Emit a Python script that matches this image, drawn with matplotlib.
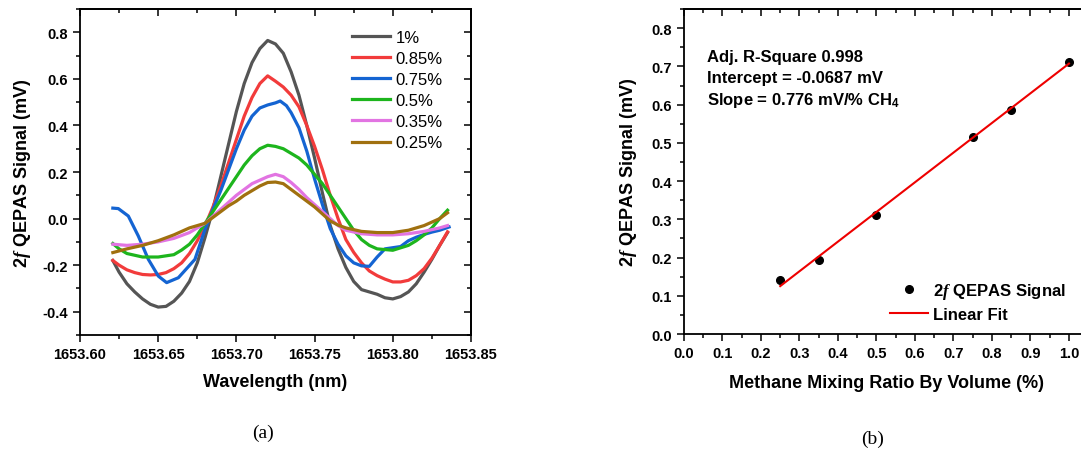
#!/usr/bin/env python3

import numpy as np
import matplotlib.pyplot as plt
from matplotlib.ticker import MultipleLocator, FormatStrFormatter, NullFormatter

plt.rcParams['font.family'] = ['Liberation Sans', 'DejaVu Sans']
plt.rcParams['mathtext.fontset'] = 'custom'
plt.rcParams['mathtext.it'] = 'Liberation Serif:italic:bold'
plt.rcParams['mathtext.rm'] = 'Liberation Sans:bold'
plt.rcParams['mathtext.bf'] = 'Liberation Sans:bold'

# ---- panel (a): 2f QEPAS spectra ----
labels = [ '1%', '0.85%', '0.75%', '0.5%', '0.35%', '0.25%' ]
colors = [ '#555555', '#f23b3b', '#1464d2', '#1db51d', '#e274e2', '#a0700f' ]

wl_1 = [ 1653.621, 1653.625, 1653.63, 1653.635, 1653.64, 1653.645, 1653.65, 1653.655,
         1653.66, 1653.665, 1653.67, 1653.675, 1653.68, 1653.685, 1653.69, 1653.695,
         1653.70, 1653.705, 1653.71, 1653.715, 1653.72, 1653.725, 1653.73, 1653.735,
         1653.74, 1653.745, 1653.75, 1653.755, 1653.76, 1653.765, 1653.77, 1653.775,
         1653.78, 1653.785, 1653.79, 1653.795, 1653.80, 1653.805, 1653.81, 1653.815,
         1653.82, 1653.825, 1653.83, 1653.835 ]
sig_1 = [ -0.18, -0.23, -0.28, -0.315, -0.345, -0.368, -0.38, -0.377,
          -0.355, -0.32, -0.27, -0.19, -0.08, 0.04, 0.18, 0.32,
          0.46, 0.58, 0.67, 0.73, 0.765, 0.75, 0.71, 0.63,
          0.53, 0.40, 0.26, 0.11, -0.03, -0.13, -0.21, -0.27,
          -0.305, -0.315, -0.325, -0.34, -0.345, -0.335, -0.315, -0.28,
          -0.23, -0.175, -0.115, -0.06 ]

wl_085 = [ 1653.621, 1653.625, 1653.63, 1653.635, 1653.64, 1653.645, 1653.65, 1653.655,
           1653.66, 1653.665, 1653.67, 1653.675, 1653.68, 1653.685, 1653.69, 1653.695,
           1653.70, 1653.705, 1653.71, 1653.715, 1653.72, 1653.725, 1653.73, 1653.735,
           1653.74, 1653.745, 1653.75, 1653.755, 1653.76, 1653.765, 1653.77, 1653.775,
           1653.78, 1653.785, 1653.79, 1653.795, 1653.80, 1653.805, 1653.81, 1653.815,
           1653.82, 1653.825, 1653.83, 1653.835 ]
sig_085 = [ -0.18, -0.20, -0.22, -0.232, -0.24, -0.242, -0.24, -0.232,
            -0.215, -0.19, -0.15, -0.095, -0.03, 0.05, 0.14, 0.24,
            0.34, 0.44, 0.52, 0.58, 0.613, 0.59, 0.565, 0.53,
            0.48, 0.40, 0.31, 0.21, 0.10, 0.0, -0.09, -0.145,
            -0.19, -0.225, -0.245, -0.26, -0.272, -0.272, -0.265, -0.245,
            -0.215, -0.17, -0.115, -0.057 ]

wl_075 = [ 1653.621, 1653.6245, 1653.6309, 1653.6373, 1653.6437, 1653.6501, 1653.6554,
           1653.6629, 1653.6735, 1653.6799, 1653.685, 1653.69, 1653.695, 1653.70, 1653.705,
           1653.71, 1653.715, 1653.72, 1653.725, 1653.728, 1653.732, 1653.735, 1653.74,
           1653.745, 1653.75, 1653.755, 1653.76, 1653.765, 1653.77, 1653.775, 1653.78,
           1653.785, 1653.79, 1653.795, 1653.80, 1653.805, 1653.81, 1653.815, 1653.82,
           1653.825, 1653.83, 1653.836 ]
sig_075 = [ 0.045, 0.043, 0.011, -0.075, -0.175, -0.247, -0.275,
            -0.254, -0.175, -0.046, 0.04, 0.12, 0.21, 0.30, 0.38,
            0.44, 0.475, 0.488, 0.497, 0.505, 0.485, 0.455, 0.39,
            0.29, 0.17, 0.06, -0.043, -0.11, -0.16, -0.19, -0.203,
            -0.205, -0.165, -0.13, -0.125, -0.12, -0.095, -0.08, -0.068,
            -0.058, -0.05, -0.036 ]

wl_05 = [ 1653.621, 1653.625, 1653.63, 1653.64, 1653.65, 1653.66, 1653.665, 1653.67, 1653.675,
          1653.68, 1653.685, 1653.69, 1653.695, 1653.70, 1653.705, 1653.71, 1653.715,
          1653.72, 1653.725, 1653.73, 1653.735, 1653.74, 1653.745, 1653.75, 1653.755,
          1653.76, 1653.765, 1653.77, 1653.775, 1653.78, 1653.785, 1653.79, 1653.80,
          1653.81, 1653.815, 1653.82, 1653.825, 1653.83, 1653.835 ]
sig_05 = [ -0.107, -0.13, -0.15, -0.165, -0.165, -0.155, -0.135, -0.11, -0.07,
           -0.02, 0.03, 0.08, 0.13, 0.18, 0.23, 0.27, 0.30,
           0.315, 0.31, 0.30, 0.28, 0.26, 0.23, 0.19, 0.15,
           0.10, 0.05, 0.0, -0.05, -0.09, -0.115, -0.13, -0.136,
           -0.115, -0.095, -0.07, -0.04, 0.0, 0.036 ]

wl_035 = [ 1653.621, 1653.63, 1653.64, 1653.65, 1653.66, 1653.67, 1653.675, 1653.68,
           1653.685, 1653.69, 1653.695, 1653.70, 1653.705, 1653.71, 1653.715, 1653.72,
           1653.725, 1653.73, 1653.735, 1653.74, 1653.745, 1653.75, 1653.755, 1653.76,
           1653.765, 1653.77, 1653.78, 1653.79, 1653.80, 1653.81, 1653.82, 1653.83,
           1653.835 ]
sig_035 = [ -0.11, -0.115, -0.11, -0.10, -0.085, -0.06, -0.04, -0.02,
            0.01, 0.04, 0.07, 0.10, 0.125, 0.15, 0.165, 0.18,
            0.19, 0.18, 0.155, 0.125, 0.09, 0.06, 0.03, 0.0,
            -0.03, -0.05, -0.065, -0.07, -0.07, -0.065, -0.055, -0.04,
            -0.03 ]

wl_025 = [ 1653.621, 1653.63, 1653.64, 1653.65, 1653.66, 1653.67, 1653.675, 1653.68,
           1653.685, 1653.69, 1653.695, 1653.70, 1653.705, 1653.71, 1653.715, 1653.72,
           1653.725, 1653.73, 1653.735, 1653.74, 1653.745, 1653.75, 1653.755, 1653.76,
           1653.765, 1653.77, 1653.78, 1653.79, 1653.80, 1653.81, 1653.82, 1653.83,
           1653.835 ]
sig_025 = [ -0.146, -0.13, -0.115, -0.095, -0.07, -0.04, -0.03, -0.02,
            0.005, 0.03, 0.055, 0.075, 0.10, 0.12, 0.14, 0.155,
            0.157, 0.15, 0.125, 0.10, 0.075, 0.05, 0.02, -0.01,
            -0.028, -0.04, -0.055, -0.06, -0.06, -0.05, -0.03, 0.0,
            0.025 ]

wls  = [ wl_1, wl_085, wl_075, wl_05, wl_035, wl_025 ]
sigs = [ sig_1, sig_085, sig_075, sig_05, sig_035, sig_025 ]

# ---- panel (b): calibration ----
conc    = [ 0.25, 0.35, 0.50, 0.75, 0.85, 1.00 ]
peak    = [ 0.140, 0.193, 0.312, 0.515, 0.587, 0.712 ]
slope     = 0.776
intercept = -0.0687
fit_text  = [ 'Adj. R-Square 0.998',
              'Intercept = -0.0687 mV',
              r'Slope = 0.776 mV/% CH$_\mathbf{4}$' ]

fig = plt.figure( figsize = ( 10.81, 4.52 ), dpi = 100 )
axA = fig.add_axes( [ 0.074, 0.2566, 0.3617, 0.7212 ] )
axB = fig.add_axes( [ 0.6327, 0.2588, 0.374, 0.719 ] )

for wl, sg, lab, c in zip( wls, sigs, labels, colors ):
    axA.plot( wl, sg, c = c, lw = 2.3, label = lab, solid_joinstyle = 'round' )

axA.set_xlim( 1653.60, 1653.85 )
axA.set_ylim( -0.5, 0.9 )
axA.xaxis.set_major_locator( MultipleLocator( 0.05 ) )
axA.xaxis.set_minor_locator( MultipleLocator( 0.025 ) )
axA.yaxis.set_major_locator( MultipleLocator( 0.2 ) )
axA.yaxis.set_minor_locator( MultipleLocator( 0.1 ) )
axA.xaxis.set_major_formatter( FormatStrFormatter( '%.2f' ) )
axA.yaxis.set_major_formatter( FormatStrFormatter( '%.1f' ) )
axA.set_xlabel( 'Wavelength (nm)', fontsize = 13, fontweight = 'bold', labelpad = 9 )
axA.set_ylabel( r'$2f$ QEPAS Signal (mV)', fontsize = 13, fontweight = 'bold', labelpad = 7 )
axA.legend( loc = 'upper left', frameon = False, fontsize = 12, handlelength = 2.3,
            handletextpad = 0.3, labelspacing = 0.37, borderpad = 0, borderaxespad = 0,
            bbox_to_anchor = ( 0.696, 0.937 ) )

x_fit = np.array( [ conc[0], conc[-1] ] )
axB.plot( conc, peak, ls = 'none', marker = 'o', ms = 5.5, c = 'black', label = r'$2f$ QEPAS Signal' )
axB.plot( x_fit, slope * x_fit + intercept, c = '#ee0000', lw = 1.5, label = 'Linear Fit' )
axB.set_xlim( 0.0, 1.05 )
axB.set_ylim( 0.0, 0.85 )
axB.xaxis.set_major_locator( MultipleLocator( 0.1 ) )
axB.xaxis.set_minor_locator( MultipleLocator( 0.05 ) )
axB.yaxis.set_major_locator( MultipleLocator( 0.1 ) )
axB.yaxis.set_minor_locator( MultipleLocator( 0.05 ) )
axB.xaxis.set_major_formatter( FormatStrFormatter( '%.1f' ) )
axB.yaxis.set_major_formatter( FormatStrFormatter( '%.1f' ) )
axB.set_xlabel( 'Methane Mixing Ratio By Volume (%)', fontsize = 13, fontweight = 'bold', labelpad = 10 )
axB.set_ylabel( r'$2f$ QEPAS Signal (mV)', fontsize = 13, fontweight = 'bold', labelpad = 9 )
for yy, txt in zip( [ 0.725, 0.670, 0.613 ], fit_text ):
    axB.text( 0.06, yy, txt, fontsize = 12, fontweight = 'bold', va = 'center', ha = 'left' )
axB.legend( loc = 'upper left', frameon = False, prop = { 'weight' : 'bold', 'size' : 12 },
            handlelength = 2.3, handletextpad = 0.3, labelspacing = 0.38,
            borderpad = 0, borderaxespad = 0, bbox_to_anchor = ( 0.51, 0.164 ) )

for ax in ( axA, axB ):
    for s in ax.spines.values():
        s.set_linewidth( 1.3 )
    ax.tick_params( which = 'both', direction = 'out', width = 1.1, labelsize = 10.5 )
    ax.tick_params( which = 'major', length = 5 )
    ax.tick_params( which = 'minor', length = 3 )
    for t in ax.get_xticklabels() + ax.get_yticklabels():
        t.set_fontweight( 'bold' )
    # inward mirror ticks on top and right
    top = ax.secondary_xaxis( 'top' )
    rgt = ax.secondary_yaxis( 'right' )
    top.xaxis.set_major_locator( ax.xaxis.get_major_locator() )
    top.xaxis.set_minor_locator( ax.xaxis.get_minor_locator() )
    rgt.yaxis.set_major_locator( ax.yaxis.get_major_locator() )
    rgt.yaxis.set_minor_locator( ax.yaxis.get_minor_locator() )
    for sec in ( top, rgt ):
        sec.tick_params( which = 'both', direction = 'in', width = 1.1 )
        sec.tick_params( which = 'major', length = 5 )
        sec.tick_params( which = 'minor', length = 3 )
        sec.xaxis.set_major_formatter( NullFormatter() )
        sec.yaxis.set_major_formatter( NullFormatter() )
        for s in sec.spines.values():
            s.set_linewidth( 1.3 )

fig.text( 0.243, 0.042, '(a)', fontsize = 14, family = 'Liberation Serif', ha = 'center', va = 'center' )
fig.text( 0.807, 0.029, '(b)', fontsize = 14, family = 'Liberation Serif', ha = 'center', va = 'center' )

plt.savefig( 'out.png', dpi = 100 )
plt.close()
